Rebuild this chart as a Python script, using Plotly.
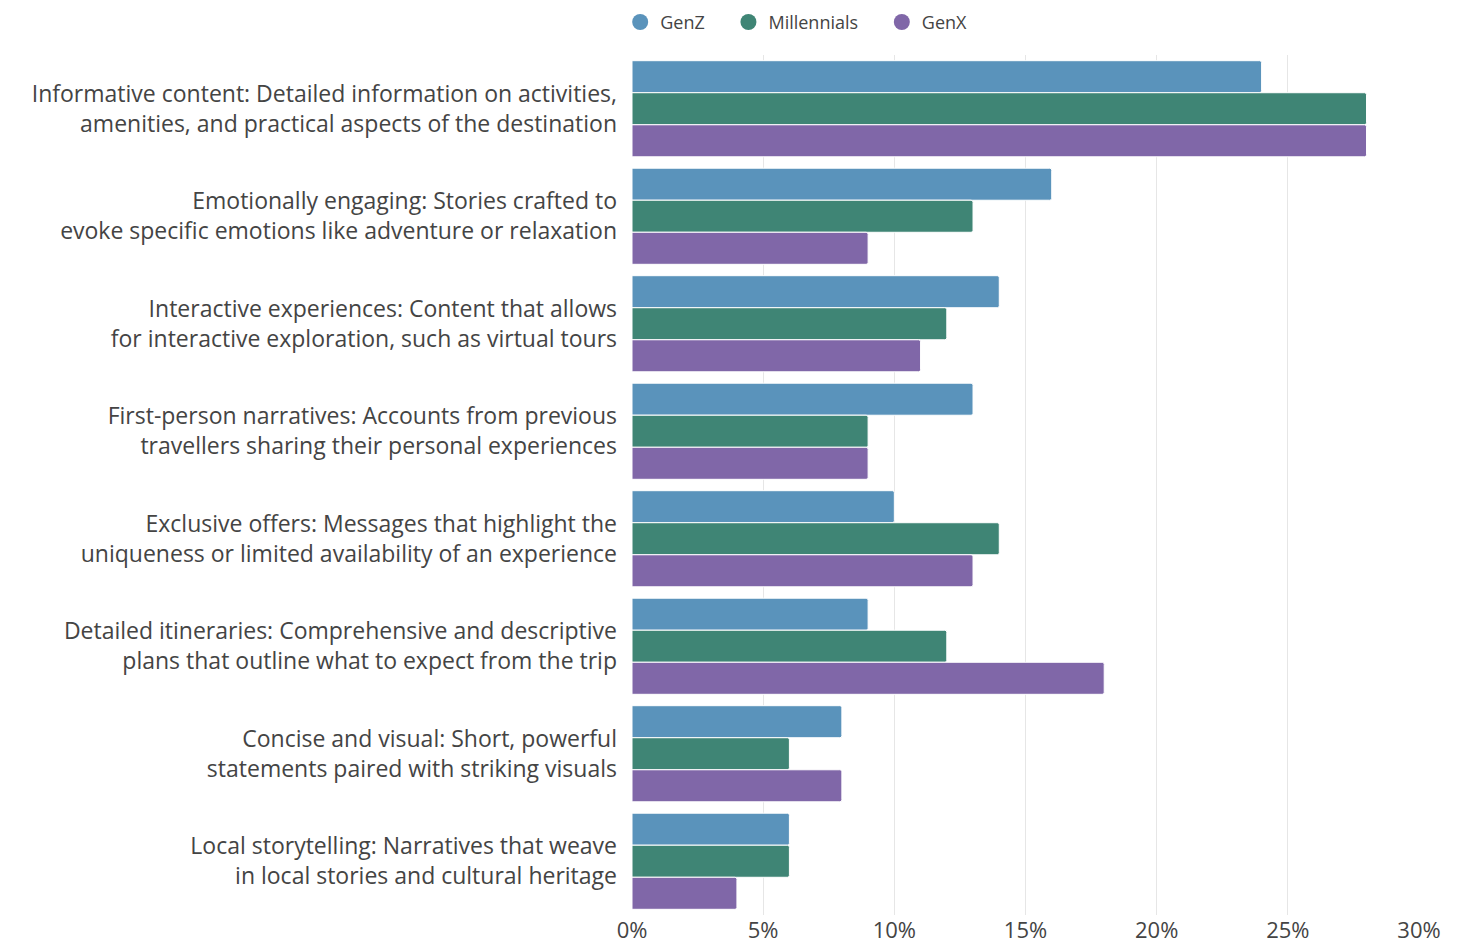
import plotly.graph_objects as go

categories = [
    "Informative content: Detailed information on activities,<br>amenities, and practical aspects of the destination",
    "Emotionally engaging: Stories crafted to<br>evoke specific emotions like adventure or relaxation",
    "Interactive experiences: Content that allows<br>for interactive exploration, such as virtual tours",
    "First-person narratives: Accounts from previous<br>travellers sharing their personal experiences",
    "Exclusive offers: Messages that highlight the<br>uniqueness or limited availability of an experience",
    "Detailed itineraries: Comprehensive and descriptive<br>plans that outline what to expect from the trip",
    "Concise and visual: Short, powerful<br>statements paired with striking visuals",
    "Local storytelling: Narratives that weave<br>in local stories and cultural heritage",
]
genz = [24, 16, 14, 13, 10, 9, 8, 6]
millennials = [28, 13, 12, 9, 14, 12, 6, 6]
genx = [28, 9, 11, 9, 13, 18, 8, 4]
series_names = ["GenZ", "Millennials", "GenX"]
colors = ["#5a93bb", "#3f8575", "#8067a8"]
tick_vals = [0, 5, 10, 15, 20, 25, 30]
tick_text = ["0%", "5%", "10%", "15%", "20%", "25%", "30%"]

fig = go.Figure()
for name, vals, col in zip(series_names, [genz, millennials, genx], colors):
    fig.add_trace(go.Bar(
        y=categories, x=vals, name=name, orientation="h", showlegend=False,
        marker=dict(color=col, line=dict(color="white", width=1), cornerradius=2),
    ))
# legend entries with circular symbols
pad = "\u00a0" * 4
for name, col in zip(series_names, colors):
    fig.add_trace(go.Scatter(
        x=[None], y=[None], mode="markers", name=name + pad,
        marker=dict(color=col, size=18, symbol="circle"),
    ))

font_family = "'Open Sans', sans-serif"
fig.update_layout(
    width=1464, height=936,
    barmode="group", bargap=0.106, bargroupgap=0,
    plot_bgcolor="white", paper_bgcolor="white",
    margin=dict(l=624, r=53, t=47, b=29, autoexpand=False),
    font=dict(family=font_family, color="#444444", size=23),
    legend=dict(orientation="h", x=-0.015, xanchor="left", y=1.0165, yanchor="bottom",
                font=dict(size=18, color="#444444"),
                traceorder="normal"),
    xaxis=dict(range=[0, 30], tickvals=tick_vals, ticktext=tick_text,
               showgrid=True, gridcolor="#e6e6e6", gridwidth=1, automargin=False,
               zeroline=False, showline=False, ticks="",
               tickfont=dict(size=22, color="#444444")),
    yaxis=dict(autorange="reversed", showgrid=False, ticks="", automargin=False,
               ticklabelstandoff=14, tickfont=dict(size=23, color="#444444")),
)
fig.write_html("out.html")
